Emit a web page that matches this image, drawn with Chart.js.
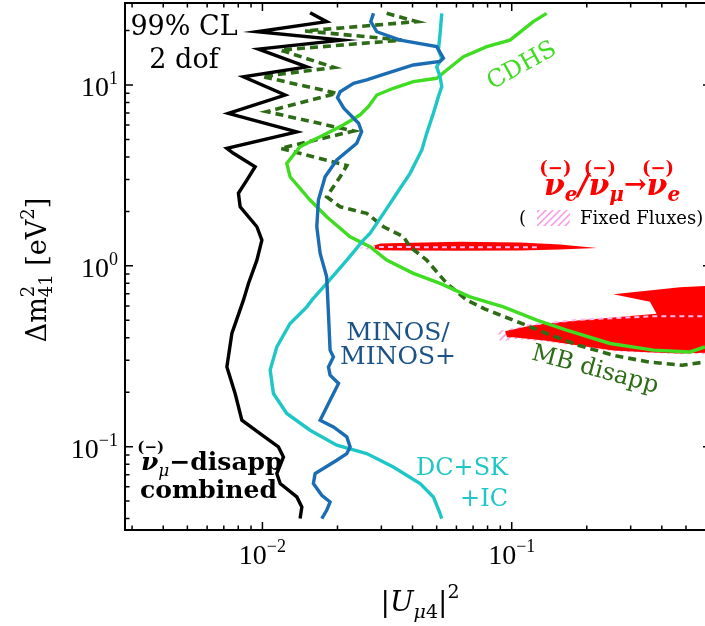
<!DOCTYPE html>
<html>
<head>
<meta charset="utf-8">
<script src="https://cdn.jsdelivr.net/npm/chart.js@4.4.0/dist/chart.umd.min.js"></script>
<style>
  html, body { margin: 0; padding: 0; background: #fff; }
  #wrap { width: 705px; height: 626px; }
</style>
</head>
<body>
<div id="wrap"><canvas id="chartCanvas" width="705" height="626"></canvas></div>
<script>
// axis ranges (|U_mu4|^2 and Delta m^2_41)
const xMin = 0.00281, xMax = 0.596;
const yMin = 0.0346, yMax = 28.4;
const xTickValues = [0.01, 0.1];
const xTickExps = ["\u22122", "\u22121"];
const yTickValues = [0.1, 1, 10];
const yTickExps = ["\u22121", "0", "1"];

// numu-disappearance combined (black)
const combinedU = [0.01553, 0.0181, 0.0095, 0.0208, 0.00964, 0.01507, 0.00839, 0.01233, 0.0073, 0.01374, 0.0072, 0.00765, 0.00935, 0.00866, 0.00801, 0.00814, 0.0095, 0.00995, 0.0095, 0.00879, 0.00839, 0.00754, 0.0072, 0.00777, 0.00827, 0.00979, 0.01159, 0.01214, 0.01142, 0.01178, 0.01374, 0.01439, 0.01416];
const combinedDm = [25.1, 22.4, 19.7, 17.7, 15.8, 12.6, 11.1, 8.8, 6.97, 5.51, 4.46, 4.19, 3.53, 2.98, 2.52, 2.12, 1.644, 1.388, 1.075, 0.799, 0.646, 0.4226, 0.276, 0.1967, 0.14, 0.1181, 0.0996, 0.0877, 0.071, 0.0625, 0.0527, 0.0464, 0.04];

// MINOS/MINOS+
const minosU = [0.0279, 0.0272, 0.02875, 0.0357, 0.05, 0.0532, 0.0516, 0.0403, 0.0315, 0.0262, 0.0232, 0.0205, 0.02, 0.0212, 0.0243, 0.025, 0.0239, 0.01987, 0.01784, 0.01677, 0.01652, 0.01704, 0.0181, 0.0184, 0.01868, 0.01926, 0.0184, 0.01868, 0.0202, 0.01868, 0.01704, 0.01926, 0.0218, 0.02247, 0.0218, 0.01987, 0.01627, 0.01601, 0.0173, 0.01868, 0.0181, 0.0173];
const minosDm = [24.9, 22.4, 19.7, 17.7, 16.3, 14.06, 13.5, 12.9, 11.6, 10.66, 10.2, 9.18, 8.5, 7.45, 6.14, 5.51, 4.76, 3.846, 3.108, 2.31, 1.644, 1.171, 0.869, 0.545, 0.3416, 0.3135, 0.276, 0.2485, 0.2236, 0.1807, 0.14, 0.1285, 0.1132, 0.0996, 0.0916, 0.0841, 0.071, 0.0625, 0.0538, 0.0494, 0.0445, 0.04];

// DeepCore + SK + IceCube
const dcU = [0.0524, 0.0516, 0.0508, 0.0524, 0.05, 0.0516, 0.0524, 0.0508, 0.0485, 0.0456, 0.0436, 0.0391, 0.0346, 0.0306, 0.027, 0.0254, 0.0218, 0.0181, 0.01578, 0.01507, 0.01291, 0.01142, 0.01074, 0.01107, 0.01252, 0.01553, 0.01987, 0.0262, 0.0335, 0.0429, 0.0485, 0.0516, 0.0524];
const dcDm = [24.9, 19.3, 15.6, 14.1, 12.6, 11.1, 9.79, 8.62, 6.97, 5.4, 4.37, 3.246, 2.52, 1.95, 1.511, 1.388, 1.075, 0.799, 0.646, 0.593, 0.48, 0.3563, 0.265, 0.1967, 0.1525, 0.1233, 0.1018, 0.0916, 0.0772, 0.0625, 0.0527, 0.0426, 0.04];

// CDHS
const cdhsU = [0.138, 0.122, 0.0984, 0.0794, 0.064, 0.0549, 0.05, 0.0403, 0.0335, 0.02875, 0.0266, 0.0246, 0.0211, 0.01704, 0.01416, 0.01252, 0.01291, 0.01553, 0.0181, 0.02247, 0.027, 0.0315, 0.0403, 0.0516, 0.068, 0.0926, 0.126, 0.166, 0.248, 0.37, 0.519, 0.596];
const cdhsDm = [24.9, 22.4, 17.7, 16.3, 14.35, 12.1, 10.89, 10.43, 9.59, 8.8, 7.59, 6.82, 6.01, 5.175, 4.556, 3.687, 3.108, 2.31, 1.867, 1.447, 1.274, 1.075, 0.908, 0.799, 0.674, 0.593, 0.5006, 0.4406, 0.372, 0.3416, 0.334, 0.356];

// MiniBooNE disappearance (dashed)
const mbU = [0.0315, 0.0416, 0.01483, 0.0363, 0.0118, 0.0194, 0.00997, 0.01987, 0.0104, 0.0232, 0.0118, 0.0218, 0.0205, 0.0181, 0.0205, 0.0262, 0.0306, 0.0368, 0.0391, 0.0456, 0.0549, 0.066, 0.0782, 0.1015, 0.138, 0.1845, 0.2595, 0.3585, 0.4817, 0.596];
const mbDm = [24.9, 22.4, 19.9, 17.7, 15.6, 12.5, 11.14, 9.0, 7.12, 5.566, 4.46, 3.585, 3.108, 2.41, 2.12, 1.95, 1.644, 1.447, 1.274, 1.075, 0.799, 0.646, 0.576, 0.5006, 0.4226, 0.364, 0.3185, 0.293, 0.282, 0.294];

// appearance allowed regions (red), outline of each closed region
const appMainU = [0.2555, 0.348, 0.473, 0.7, 0.7, 0.473, 0.348, 0.2555, 0.1879, 0.138, 0.1015, 0.0958, 0.094, 0.1184, 0.138, 0.1879, 0.2555, 0.381, 0.3585];
const appMainDm = [0.697, 0.727, 0.76, 0.782, 0.333, 0.3275, 0.333, 0.34, 0.3617, 0.3855, 0.403, 0.403, 0.435, 0.4667, 0.48, 0.5006, 0.518, 0.5436, 0.632];
const appSliverU = [0.027, 0.0297, 0.0357, 0.062, 0.108, 0.156, 0.22, 0.156, 0.108, 0.062, 0.0357, 0.0297];
const appSliverDm = [1.269, 1.327, 1.336, 1.358, 1.344, 1.31, 1.253, 1.229, 1.217, 1.211, 1.217, 1.22];

// fixed-flux regions (pink hatched)
const fixedMainU = [0.0881, 0.1148, 0.1879, 0.381, 0.7, 0.7, 0.473, 0.2555, 0.138, 0.1015, 0.0898];
const fixedMainDm = [0.435, 0.4696, 0.5037, 0.5268, 0.5268, 0.3246, 0.3246, 0.337, 0.3806, 0.3956, 0.378];
const fixedEdgeU = [0.1148, 0.1879, 0.381, 0.7];
const fixedEdgeDm = [0.4696, 0.5037, 0.5268, 0.5268];
const fixedSliverU = [0.0242, 0.028, 0.062, 0.13, 0.062, 0.028];
const fixedSliverDm = [1.255, 1.3, 1.31, 1.27, 1.225, 1.215];
const fixedSliverEdgeU = [0.027, 0.131];
const fixedSliverEdgeDm = [1.27, 1.265];

const SERIF = '"DejaVu Serif", serif';
const TICKFONT = '"Liberation Serif", serif';

const pts = (xs, ys) => xs.map((v, i) => ({ x: v, y: ys[i] }));

function hatchPattern(ctx) {
  const c = document.createElement("canvas");
  c.width = 7;
  c.height = 7;
  const g = c.getContext("2d");
  g.strokeStyle = "#f5a3e6";
  g.lineWidth = 1.6;
  g.beginPath();
  g.moveTo(0, 7); g.lineTo(7, 0);
  g.moveTo(-1, 1); g.lineTo(1, -1);
  g.moveTo(6, 8); g.lineTo(8, 6);
  g.stroke();
  return ctx.createPattern(c, "repeat");
}

// draw a sequence of text pieces: [text, font, dy, noAdvance]
function drawRuns(ctx, parts, x, y, align) {
  let w = 0;
  parts.forEach((p) => {
    if (p[3]) return;
    ctx.font = p[1];
    w += ctx.measureText(p[0]).width;
  });
  let cx = align === "center" ? x - w / 2 : align === "right" ? x - w : x;
  const pos = [];
  ctx.textAlign = "left";
  parts.forEach((p) => {
    ctx.font = p[1];
    const pw = ctx.measureText(p[0]).width;
    ctx.fillText(p[0], cx, y + (p[2] || 0));
    pos.push(cx + pw / 2);
    if (!p[3]) cx += pw;
  });
  return pos;
}

const decorPlugin = {
  id: "decor",
  afterDatasetsDraw(chart) {
    const { ctx, chartArea: a, scales } = chart;
    const x = scales.x, y = scales.y;
    ctx.save();

    // frame (right edge sits just outside the picture)
    ctx.strokeStyle = "#000";
    ctx.lineWidth = 2;
    ctx.strokeRect(a.left, a.top, a.right - a.left + 6, a.bottom - a.top);

    // inward ticks on all four sides
    ctx.lineWidth = 1.5;
    ctx.beginPath();
    for (let e = -3; e <= 1; e++) {
      for (let m = 1; m <= 9; m++) {
        const v = m * Math.pow(10, e);
        const len = m === 1 ? 8 : 4.5;
        if (v >= xMin && v <= xMax) {
          const px = x.getPixelForValue(v);
          ctx.moveTo(px, a.bottom); ctx.lineTo(px, a.bottom - len);
          ctx.moveTo(px, a.top); ctx.lineTo(px, a.top + len);
        }
        if (v >= yMin && v <= yMax) {
          const py = y.getPixelForValue(v);
          ctx.moveTo(a.left, py); ctx.lineTo(a.left + len, py);
          ctx.moveTo(a.right + 6, py); ctx.lineTo(a.right + 6 - len, py);
        }
      }
    }
    ctx.stroke();

    // tick labels
    ctx.fillStyle = "#000";
    ctx.textBaseline = "alphabetic";
    xTickValues.forEach((v, i) => {
      drawRuns(ctx, [["10", "28px " + TICKFONT, 0], [xTickExps[i], "18px " + TICKFONT, -12]], x.getPixelForValue(v), a.bottom + 34, "center");
    });
    yTickValues.forEach((v, i) => {
      drawRuns(ctx, [["10", "28px " + TICKFONT, 0], [yTickExps[i], "18px " + TICKFONT, -12]], 118, y.getPixelForValue(v) + 11, "right");
    });

    // axis titles
    drawRuns(ctx, [
      ["|", "28px " + SERIF, 0],
      ["U", "italic 28px " + SERIF, 0],
      ["\u03bc", "italic 19px " + SERIF, 7],
      ["4", "19px " + SERIF, 7],
      ["|", "28px " + SERIF, 0],
      ["2", "19px " + SERIF, -13]
    ], 420, 611, "center");

    ctx.save();
    ctx.translate(46, 270);
    ctx.rotate(-Math.PI / 2);
    drawRuns(ctx, [
      ["\u0394m", "27px " + SERIF, 0],
      ["2", "18px " + SERIF, -12, true],
      ["41", "18px " + SERIF, 6],
      [" [eV", "27px " + SERIF, 0],
      ["2", "18px " + SERIF, -12],
      ["]", "27px " + SERIF, 0]
    ], 0, 0, "center");
    ctx.restore();

    // annotations
    ctx.fillStyle = "#000";
    ctx.textAlign = "center";
    ctx.font = "27px " + SERIF;
    ctx.fillText("99% CL", 184, 35);
    ctx.fillText("2 dof", 184, 68);

    ctx.save();
    ctx.translate(522, 66);
    ctx.rotate(-29 * Math.PI / 180);
    ctx.fillStyle = "#3fdc22";
    ctx.font = "24px " + SERIF;
    ctx.textBaseline = "middle";
    ctx.fillText("CDHS", 0, 0);
    ctx.restore();

    ctx.fillStyle = "#1c5286";
    ctx.font = "25px " + SERIF;
    ctx.fillText("MINOS/", 398, 340);
    ctx.fillText("MINOS+", 398, 364);

    ctx.save();
    ctx.translate(595, 370);
    ctx.rotate(15 * Math.PI / 180);
    ctx.fillStyle = "#2e6b16";
    ctx.font = "24px " + SERIF;
    ctx.textBaseline = "middle";
    ctx.fillText("MB disapp", 0, 0);
    ctx.restore();

    ctx.fillStyle = "#1fc6c6";
    ctx.font = "24px " + SERIF;
    ctx.textAlign = "right";
    ctx.fillText("DC+SK", 508, 475);
    ctx.fillText("+IC", 508, 506);

    ctx.fillStyle = "#000";
    const nuPos = drawRuns(ctx, [
      ["\u03bd", "italic bold 25px " + SERIF, 0],
      ["\u03bc", "italic 17px " + SERIF, 6],
      ["\u2212disapp", "bold 25px " + SERIF, 0]
    ], 141, 470, "left");
    ctx.textAlign = "center";
    ctx.font = "bold 15px " + SERIF;
    ctx.fillText("(\u2212)", nuPos[0] + 1, 452);
    drawRuns(ctx, [["combined", "bold 25px " + SERIF, 0]], 140, 498, "left");

    // appearance title
    ctx.fillStyle = "#ff0000";
    const bi = "italic bold 30px " + SERIF;
    const sb = "italic bold 20px " + SERIF;
    const tp = drawRuns(ctx, [
      ["\u03bd", bi, 0], ["e", sb, 6], ["/", bi, 0],
      ["\u03bd", bi, 0], ["\u03bc", sb, 6], ["\u2192", "bold 27px " + SERIF, -2],
      ["\u03bd", bi, 0], ["e", sb, 6]
    ], 544, 195, "left");
    ctx.textAlign = "center";
    ctx.font = "bold 18px " + SERIF;
    [0, 3, 6].forEach((k) => ctx.fillText("(\u2212)", tp[k] + 1, 174));

    // fixed flux legend
    ctx.fillStyle = "#000";
    ctx.textAlign = "left";
    ctx.font = "18px " + SERIF;
    ctx.fillText("(", 519, 224);
    ctx.fillText("Fixed Fluxes)", 580, 224);
    ctx.fillStyle = hatchPattern(ctx);
    ctx.fillRect(537, 210, 33, 16);

    ctx.restore();
  }
};

const ctx = document.getElementById("chartCanvas").getContext("2d");
const hatch = hatchPattern(ctx);

const base = { showLine: true, pointRadius: 0, tension: 0, fill: false };

new Chart(ctx, {
  type: "scatter",
  data: {
    datasets: [
      { ...base, data: pts(fixedMainU, fixedMainDm), fill: "shape", backgroundColor: hatch, borderWidth: 0, order: 10 },
      { ...base, data: pts(fixedSliverU, fixedSliverDm), fill: "shape", backgroundColor: hatch, borderWidth: 0, order: 10 },
      { ...base, data: pts(appMainU, appMainDm), fill: "shape", backgroundColor: "#ff0000", borderWidth: 0, order: 9 },
      { ...base, data: pts(appSliverU, appSliverDm), fill: "shape", backgroundColor: "#ff0000", borderWidth: 0, order: 9 },
      { ...base, data: pts(fixedEdgeU, fixedEdgeDm), borderColor: "#ffb8ee", borderWidth: 2, borderDash: [5, 4], order: 8 },
      { ...base, data: pts(fixedSliverEdgeU, fixedSliverEdgeDm), borderColor: "#ffb8ee", borderWidth: 2, borderDash: [5, 4], order: 8 },
      { ...base, data: pts(mbU, mbDm), borderColor: "#2e6b16", borderWidth: 3.6, borderDash: [8, 5], order: 5 },
      { ...base, data: pts(cdhsU, cdhsDm), borderColor: "#3fdc22", borderWidth: 3.4, order: 4 },
      { ...base, data: pts(dcU, dcDm), borderColor: "#1fc6c6", borderWidth: 3.4, order: 3 },
      { ...base, data: pts(minosU, minosDm), borderColor: "#1b6db3", borderWidth: 3.4, order: 2 },
      { ...base, data: pts(combinedU, combinedDm), borderColor: "#000000", borderWidth: 3.4, order: 1 }
    ]
  },
  options: {
    responsive: false,
    devicePixelRatio: 1,
    animation: false,
    layout: { padding: { left: 125, top: 3, right: 0, bottom: 96 } },
    plugins: { legend: { display: false }, tooltip: { enabled: false } },
    scales: {
      x: { type: "logarithmic", min: xMin, max: xMax, display: false },
      y: { type: "logarithmic", min: yMin, max: yMax, display: false }
    }
  },
  plugins: [decorPlugin]
});
</script>
</body>
</html>
